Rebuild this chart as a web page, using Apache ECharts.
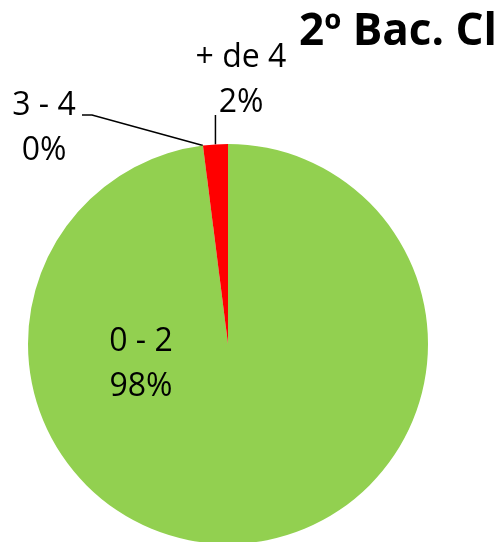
<!DOCTYPE html>
<html>
<head>
<meta charset="utf-8">
<script src="https://cdn.jsdelivr.net/npm/echarts@6/dist/echarts.min.js"></script>
<style>
  html, body { margin: 0; padding: 0; background: #fff; }
  #chart { width: 504px; height: 542px; }
</style>
</head>
<body>
<div id="chart"></div>
<script>
var titleText = "2º Bac. Cl";
var categories = ["0 - 2", "3 - 4", "+ de 4"];
var values = [49, 0, 1];
var colors = ["#92D050", "#FFC000", "#FF0000"];

var chart = echarts.init(document.getElementById("chart"));

var datas = [];
for (var i = 0; i < categories.length; i++) {
  datas.push({
    name: categories[i],
    value: values[i],
    itemStyle: { color: colors[i] },
    labelLine: { show: i !== 0 }
  });
}

// label anchors, picked by eye from the reference
var labelPos = [
  { x: 141, y: 364 },
  { x: 44, y: 128 },
  { x: 241, y: 80 }
];

var option = {
  animation: false,
  backgroundColor: "#fff",
  title: {
    text: titleText,
    left: 294,
    top: 5,
    textStyle: {
      fontFamily: "Open Sans",
      fontSize: 44,
      fontWeight: "bold",
      color: "#000"
    }
  },
  series: [
    {
      type: "pie",
      center: [228, 344],
      radius: 200,
      startAngle: 90,
      clockwise: true,
      avoidLabelOverlap: false,
      label: {
        show: true,
        formatter: function (p) {
          return p.name + "\n" + Math.round(p.percent) + "%";
        },
        fontFamily: "Open Sans",
        fontSize: 32,
        lineHeight: 45,
        color: "#000"
      },
      labelLine: {
        show: true,
        lineStyle: { color: "#000", width: 1.5 }
      },
      emphasis: { disabled: true },
      labelLayout: function (params) {
        var pos = labelPos[params.dataIndex];
        var res = { x: pos.x, y: pos.y, align: "center", verticalAlign: "middle" };
        var pts = params.labelLinePoints;
        if (pts && params.dataIndex === 1) {
          res.labelLinePoints = [pts[0], [92, 115], [82, 115]];
        }
        if (pts && params.dataIndex === 2) {
          res.labelLinePoints = [pts[0], [pts[0][0], 115], [pts[0][0], 115]];
        }
        return res;
      },
      data: datas
    }
  ]
};

chart.setOption(option);
</script>
</body>
</html>
